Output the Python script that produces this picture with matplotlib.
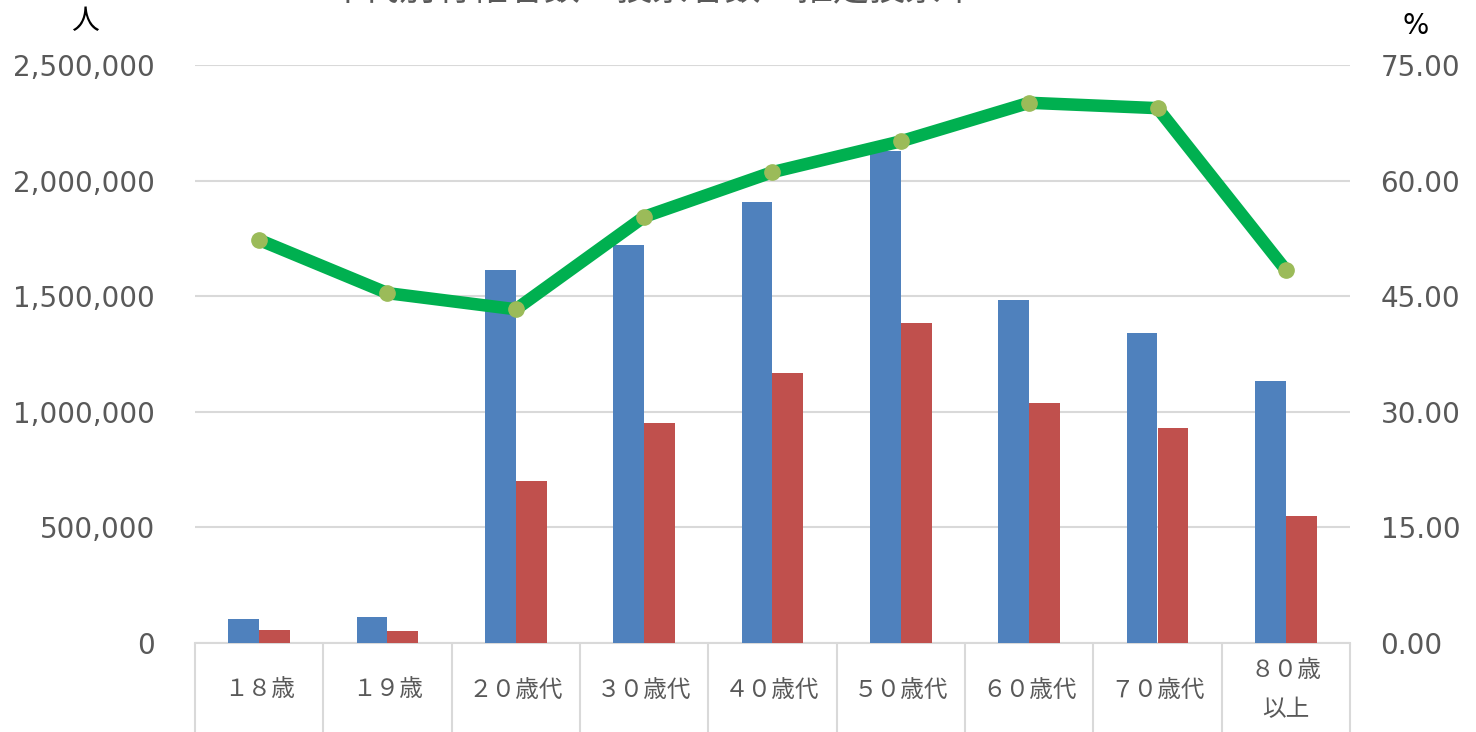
import numpy as np
import matplotlib
matplotlib.use('Agg')
import matplotlib.pyplot as plt
import matplotlib.ticker as mticker
import matplotlib.transforms as mtransforms

plt.rcParams['font.family'] = ['DejaVu Sans', 'Noto Sans CJK JP']

# Data
categories = ['１８歳', '１９歳', '２０歳代', '３０歳代', '４０歳代',
              '５０歳代', '６０歳代', '７０歳代', '８０歳\n以上']
voters = [104000, 112000, 1613000, 1721000, 1907000,
          2128000, 1484000, 1341000, 1133000]
ballots = [56000, 52000, 701000, 952000, 1168000,
           1384000, 1038000, 930000, 549000]
turnout = [52.3, 45.4, 43.3, 55.3, 61.1, 65.1, 70.1, 69.4, 48.4]

left_ticks = [0, 500000, 1000000, 1500000, 2000000, 2500000]
right_ticks = [0, 15, 30, 45, 60, 75]

GREY = '#595959'
GRID = '#D9D9D9'

W, H = 1476, 732
fig = plt.figure(figsize=(W / 100, H / 100), dpi=100)
ax = fig.add_axes([195 / W, (H - 643) / H, (1350 - 195) / W, (643 - 65) / H])

x = np.arange(len(categories))
bw = 0.24
ax.bar(x - bw / 2, voters, bw, color='#4F81BD', zorder=3)
ax.bar(x + bw / 2, ballots, bw, color='#C0504D', zorder=3)

ax.set_xlim(-0.5, len(categories) - 0.5)
ax.set_ylim(0, 2500000)
ax.set_yticks(left_ticks)
ax.yaxis.set_major_formatter(mticker.FuncFormatter(lambda v, p: '{:,.0f}'.format(v)))
ax.grid(axis='y', color=GRID, lw=1.5, zorder=0)
for s in ('top', 'left', 'right'):
    ax.spines[s].set_visible(False)
ax.spines['bottom'].set_color(GRID)
ax.spines['bottom'].set_linewidth(1.5)
ax.tick_params(axis='y', length=0, pad=29, labelsize=20, labelcolor=GREY)

# category boundaries drawn as long minor ticks
ax.set_xticks(x)
ax.set_xticklabels([])
ax.set_xticks(np.arange(-0.5, len(categories), 1), minor=True)
ax.tick_params(axis='x', which='major', length=0)
ax.tick_params(axis='x', which='minor', length=66, width=1.5, color=GRID)

trans = mtransforms.blended_transform_factory(ax.transData, ax.transAxes)
for i, lab in enumerate(categories):
    ax.text(i, -47 / 578, lab, transform=trans, ha='center', va='center',
            fontsize=17, color=GREY, family=['Noto Sans CJK JP'],
            linespacing=1.9)

ax2 = ax.twinx()
ax2.plot(x, turnout, color='#00B050', lw=9, marker='o', ms=11,
         mfc='#9BBB59', mec='#9BBB59', solid_capstyle='round', zorder=4)
ax2.set_ylim(0, 75)
ax2.set_yticks(right_ticks)
ax2.yaxis.set_major_formatter(mticker.FormatStrFormatter('%.2f'))
for s in ('top', 'left', 'right', 'bottom'):
    ax2.spines[s].set_visible(False)
ax2.tick_params(axis='y', length=0, pad=22, labelsize=20, labelcolor=GREY)

fig.text(85 / W, 1 - 21 / H, '人', ha='center', va='center', fontsize=20,
         color='black', family=['Noto Sans CJK JP'])
fig.text(1416 / W, 1 - 26 / H, '%', ha='center', va='center', fontsize=20,
         color='black')
# title is partly cut off at the top edge, as in the source image
fig.text(652 / W, 1 - 8 / H, '年代別有権者数・投票者数・推定投票率',
         ha='center', va='bottom', fontsize=26, color=GREY,
         family=['Noto Sans CJK JP'])

fig.savefig('out.png', dpi=100)
